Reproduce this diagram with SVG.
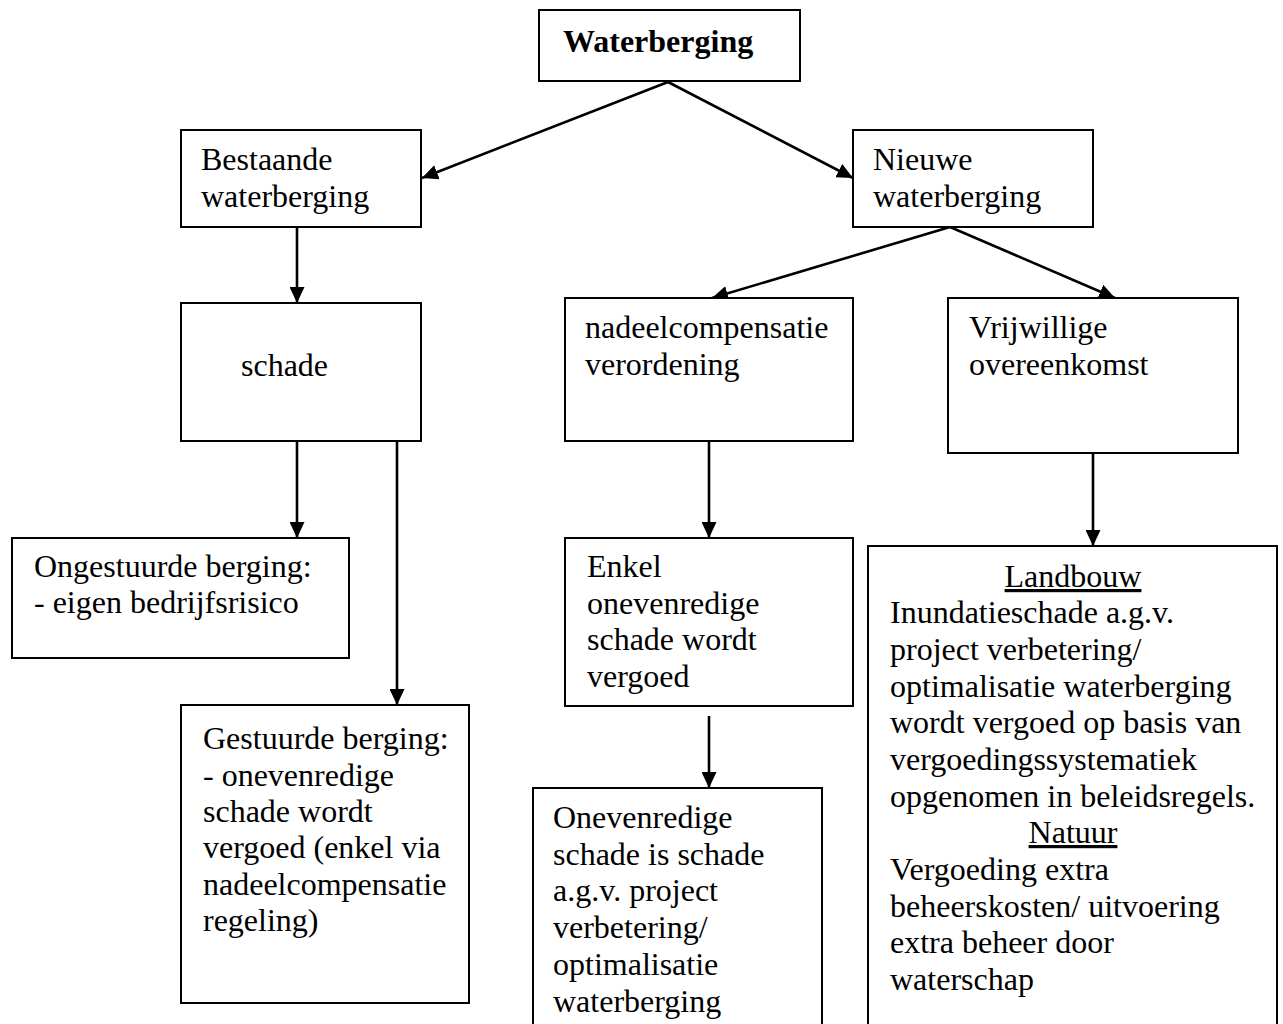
<svg xmlns="http://www.w3.org/2000/svg" width="1283" height="1024" viewBox="0 0 1283 1024">
<style>
.box{fill:#fff;stroke:#000;stroke-width:2}
.t{font-family:"Liberation Serif","Times New Roman",serif;font-size:32px;fill:#000}
.b{font-weight:bold}
.c{stroke:#000;stroke-width:2.6;fill:none;marker-end:url(#ah)}
</style>
<defs>
<marker id="ah" markerUnits="userSpaceOnUse" markerWidth="16" markerHeight="15" refX="16" refY="7.5" orient="auto">
<path d="M0,0 L16,7.5 L0,15 z" fill="#000"/>
</marker>
</defs>
<rect width="1283" height="1024" fill="#fff"/>
<g id="connectors">
<line class="c" x1="668" y1="82" x2="422" y2="178"/>
<line class="c" x1="668" y1="82" x2="853" y2="178"/>
<line class="c" x1="297" y1="227" x2="297" y2="303"/>
<line class="c" x1="950" y1="227" x2="712" y2="298"/>
<line class="c" x1="950" y1="227" x2="1115" y2="298"/>
<line class="c" x1="297" y1="441" x2="297" y2="538"/>
<line class="c" x1="397" y1="441" x2="397" y2="705"/>
<line class="c" x1="709" y1="441" x2="709" y2="538"/>
<line class="c" x1="709" y1="716" x2="709" y2="788"/>
<line class="c" x1="1093" y1="453" x2="1093" y2="546"/>
</g>
<g id="n-waterberging">
<rect class="box" x="539" y="10" width="261" height="71"/>
<text class="t b" x="563" y="52">Waterberging</text>
</g>
<g id="n-bestaande">
<rect class="box" x="181" y="130" width="240" height="97"/>
<text class="t" x="201" y="170">Bestaande</text>
<text class="t" x="201" y="207">waterberging</text>
</g>
<g id="n-nieuwe">
<rect class="box" x="853" y="130" width="240" height="97"/>
<text class="t" x="873" y="170">Nieuwe</text>
<text class="t" x="873" y="207">waterberging</text>
</g>
<g id="n-schade">
<rect class="box" x="181" y="303" width="240" height="138"/>
<text class="t" x="241" y="376">schade</text>
</g>
<g id="n-nadeelcompensatie">
<rect class="box" x="565" y="298" width="288" height="143"/>
<text class="t" x="585" y="338">nadeelcompensatie</text>
<text class="t" x="585" y="375">verordening</text>
</g>
<g id="n-vrijwillige">
<rect class="box" x="948" y="298" width="290" height="155"/>
<text class="t" x="969" y="338">Vrijwillige</text>
<text class="t" x="969" y="375">overeenkomst</text>
</g>
<g id="n-ongestuurde">
<rect class="box" x="12" y="538" width="337" height="120"/>
<text class="t" x="34" y="577">Ongestuurde berging:</text>
<text class="t" x="34" y="613">- eigen bedrijfsrisico</text>
</g>
<g id="n-gestuurde">
<rect class="box" x="181" y="705" width="288" height="298"/>
<text class="t" x="203" y="749">Gestuurde berging:</text>
<text class="t" x="203" y="786">- onevenredige</text>
<text class="t" x="203" y="822">schade wordt</text>
<text class="t" x="203" y="858">vergoed (enkel via</text>
<text class="t" x="203" y="895">nadeelcompensatie</text>
<text class="t" x="203" y="931">regeling)</text>
</g>
<g id="n-enkel">
<rect class="box" x="565" y="538" width="288" height="168"/>
<text class="t" x="587" y="577">Enkel</text>
<text class="t" x="587" y="614">onevenredige</text>
<text class="t" x="587" y="650">schade wordt</text>
<text class="t" x="587" y="687">vergoed</text>
</g>
<g id="n-onevenredige">
<rect class="box" x="533" y="788" width="289" height="250"/>
<text class="t" x="553" y="828">Onevenredige</text>
<text class="t" x="553" y="865">schade is schade</text>
<text class="t" x="553" y="901">a.g.v. project</text>
<text class="t" x="553" y="938">verbetering/</text>
<text class="t" x="553" y="975">optimalisatie</text>
<text class="t" x="553" y="1012">waterberging</text>
</g>
<g id="n-landbouw">
<rect class="box" x="868" y="546" width="409" height="492"/>
<text class="t" x="1073" y="587" text-anchor="middle" text-decoration="underline">Landbouw</text>
<text class="t" x="890" y="623">Inundatieschade a.g.v.</text>
<text class="t" x="890" y="660">project verbetering/</text>
<text class="t" x="890" y="697">optimalisatie waterberging</text>
<text class="t" x="890" y="733">wordt vergoed op basis van</text>
<text class="t" x="890" y="770">vergoedingssystematiek</text>
<text class="t" x="890" y="807">opgenomen in beleidsregels.</text>
<text class="t" x="1073" y="843" text-anchor="middle" text-decoration="underline">Natuur</text>
<text class="t" x="890" y="880">Vergoeding extra</text>
<text class="t" x="890" y="917">beheerskosten/ uitvoering</text>
<text class="t" x="890" y="953">extra beheer door</text>
<text class="t" x="890" y="990">waterschap</text>
</g>
</svg>
